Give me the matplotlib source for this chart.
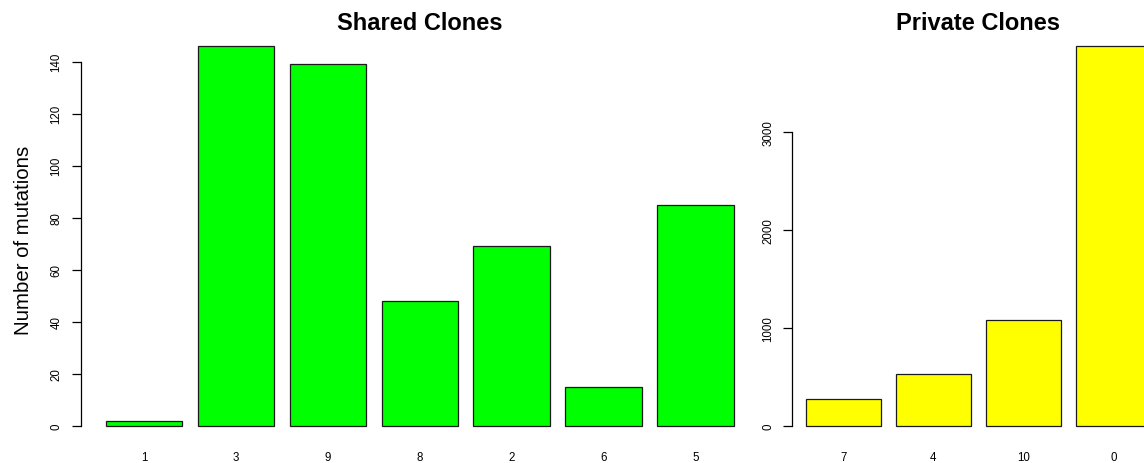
import matplotlib
matplotlib.use("Agg")
import matplotlib.pyplot as plt

# Mutation counts per clone
shared_clones = ["1", "3", "9", "8", "2", "6", "5"]
shared_counts = [2, 146, 139, 48, 69, 15, 85]

private_clones = ["7", "4", "10", "0"]
private_counts = [275, 530, 1077, 3880]

shared_ticks = [0, 20, 40, 60, 80, 100, 120, 140]
private_ticks = [0, 1000, 2000, 3000]

plt.rcParams["font.family"] = ["Liberation Sans", "DejaVu Sans"]

W, H = 1144, 464
fig = plt.figure(figsize=(W / 100, H / 100), dpi=100)

# plot regions in pixels (left, right), shared vertical extent
top_px, bottom_px = 31.9, 441.9


def make_axes(left_px, right_px):
    return fig.add_axes([left_px / W, (H - bottom_px) / H,
                         (right_px - left_px) / W, (bottom_px - top_px) / H])


def barplot(ax, names, values, color, ticks, title):
    n = len(values)
    lefts = [0.2 + 1.2 * i for i in range(n)]
    centers = [l + 0.5 for l in lefts]
    ax.bar(centers, values, width=1.0, color=color, edgecolor="#1a1a1a",
           linewidth=0.9)
    span = lefts[-1] + 1.0 - lefts[0]
    ax.set_xlim(lefts[0] - 0.04 * span, lefts[-1] + 1.0 + 0.04 * span)
    vmax = max(values)
    ax.set_ylim(-0.04 * vmax, 1.04 * vmax)
    for s in ["top", "right", "bottom"]:
        ax.spines[s].set_visible(False)
    ax.spines["left"].set_bounds(ticks[0], ticks[-1])
    ax.spines["left"].set_linewidth(0.9)
    ax.set_yticks(ticks)
    ax.set_yticklabels([str(t) for t in ticks], rotation=90, va="center",
                       fontsize=8.3)
    ax.tick_params(axis="y", direction="out", length=6.5, width=0.9, pad=6.5)
    ax.set_xticks(centers)
    ax.set_xticklabels(names, fontsize=8.3)
    ax.tick_params(axis="x", length=0, pad=7)
    pos = ax.get_position()
    fig.text(pos.x0 + pos.width / 2, 1 - 30 / H, title, ha="center",
             va="baseline", fontsize=17, fontweight="bold")


ax1 = make_axes(80.6, 759.1)
barplot(ax1, shared_clones, shared_counts, "#00FF00", shared_ticks,
        "Shared Clones")

ax2 = make_axes(792.3, 1164.5)
barplot(ax2, private_clones, private_counts, "#FFFF00", private_ticks,
        "Private Clones")

fig.text(24 / W, 1 - 240 / H, "Number of mutations", rotation=90,
         ha="center", va="center", fontsize=14.7)

fig.savefig("out.png", dpi=100, facecolor="white")
